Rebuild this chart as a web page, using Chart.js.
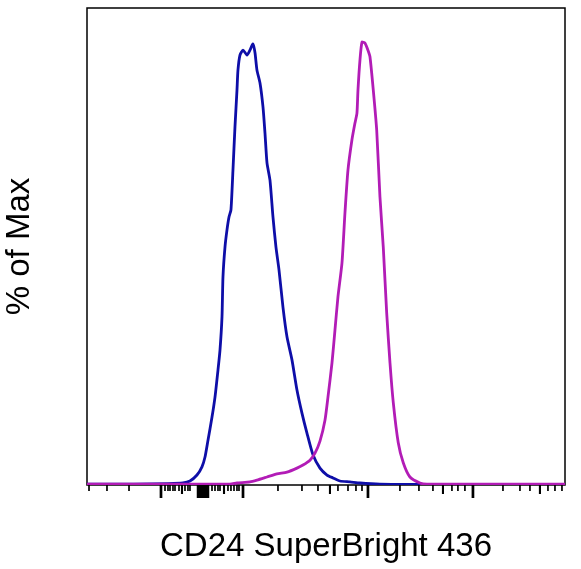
<!DOCTYPE html>
<html>
<head>
<meta charset="utf-8">
<script src="https://cdn.jsdelivr.net/npm/chart.js@4/dist/chart.umd.min.js"></script>
<style>
  html, body { margin: 0; padding: 0; background: #fff; }
</style>
</head>
<body>
<canvas id="histo" width="581" height="569"></canvas>
<script>
// x = display channel (0-1024 logicle), y = % of max
const isoChannel = [0, 100, 175, 205.6, 220.6, 235.6, 246.3, 252.8, 259.2, 267.8, 274.2, 280.6, 284.9, 289.2, 291.3,
  295.6, 299.9, 304.2, 308.4, 312.7, 317.0, 321.3, 323.4, 327.7, 334.2, 342.7, 349.1, 355.6, 359.9, 364.1,
  370.6, 377.0, 381.3, 385.6, 392.0, 398.4, 404.8, 411.3, 419.8, 428.4, 439.1, 449.8, 460.5, 471.2, 484.1,
  499.1, 514.1, 526.9, 541.9, 563.3, 584.8, 627.6, 700, 850, 1024];
const isoPct = [0.2, 0.2, 0.3, 0.45, 0.9, 2.25, 4.1, 6.3, 10.1, 15.3, 19.8, 25.9, 30.4, 37.9, 46.9,
  53.6, 57.5, 60.4, 62.0, 71.0, 80.7, 89.0, 93.5, 96.9, 98.0, 96.9, 98.0, 99.4, 97.4, 93.5,
  90.6, 85.2, 79.3, 72.6, 68.7, 60.4, 53.6, 48.5, 40.1, 33.4, 28.2, 21.4, 16.2, 11.7, 6.8,
  3.8, 2.25, 1.6, 0.9, 0.7, 0.45, 0.2, 0.15, 0.15, 0.15];

const cd24Channel = [0, 100, 200, 306.3, 321.3, 349.1, 364.1, 385.6, 406.9, 428.4, 449.8, 462.7, 477.7, 488.4,
  499.1, 509.8, 516.2, 524.8, 531.2, 537.6, 546.2, 552.6, 559.1, 567.6, 574.1, 578.3, 580.5, 584.8, 589.1,
  595.5, 601.9, 606.2, 613.3, 620.6, 627.6, 634.7, 642.0, 649.1, 656.2, 666.8, 677.5, 691.8, 713.3, 728.3,
  850, 1024];
const cd24Pct = [0.2, 0.2, 0.2, 0.2, 0.45, 0.7, 1.1, 1.8, 2.5, 2.9, 3.8, 4.5, 5.6, 7.2,
  9.9, 14.6, 19.8, 27.5, 34.9, 42.4, 50.0, 61.3, 71.0, 77.8, 81.6, 83.8, 89.0, 95.8, 99.8,
  99.6, 98.0, 96.5, 89.0, 80.0, 64.9, 53.6, 38.8, 27.5, 18.5, 9.5, 5.0, 1.8, 0.45, 0.2,
  0.2, 0.2];

// axis tick marks, in display channels
const majorTicks = [158.5, 238, 240, 242, 244, 246, 248.5, 250.5, 253, 255, 257, 259, 334.2, 601.9, 826.8];
const mediumTicks = [203.5, 293.5, 520.5, 762.6, 970.3];
const minorTicks = [4.3, 42.8, 90, 167.1, 173.5, 177.8, 184.2, 188.5, 197.1, 209.9, 216.3, 220.6,
  267.8, 274.2, 280.6, 284.9, 302, 308.4, 314.9, 321.3, 325.6, 409.1, 460.5, 494.8, 537.6, 559.1,
  576.2, 589.1, 670.4, 711.1, 741.1, 781.8, 794.6, 809.6, 891.1, 927.5, 948.9, 987.5, 1002.5, 1017.5];

const xTitle = 'CD24 SuperBright 436';
const yTitle = '% of Max';

const frameAndTicks = {
    id: 'frameAndTicks',
    beforeDatasetsDraw(chart) {
        const { ctx, chartArea: a } = chart;
        ctx.save();
        ctx.strokeStyle = '#000';
        ctx.lineWidth = 1.5;
        ctx.strokeRect(a.left, a.top, a.right - a.left, a.bottom - a.top);
        ctx.restore();
    },
    afterDatasetsDraw(chart) {
        const { ctx, chartArea: a, scales } = chart;
        const x = scales.x;
        const draw = (list, len, w) => {
            ctx.lineWidth = w;
            list.forEach(v => {
                const px = x.getPixelForValue(v);
                ctx.beginPath();
                ctx.moveTo(px, a.bottom);
                ctx.lineTo(px, a.bottom + len);
                ctx.stroke();
            });
        };
        ctx.save();
        ctx.strokeStyle = '#000';
        draw(minorTicks, 6, 1.7);
        draw(mediumTicks, 9, 2.1);
        draw(majorTicks, 13, 2.7);
        ctx.restore();
    }
};

const titleFont = { family: "'Liberation Sans', Arial, sans-serif", size: 33 };

new Chart(document.getElementById('histo'), {
    type: 'line',
    data: {
        datasets: [
            {
                label: 'CD24',
                data: cd24Channel.map((c, i) => ({ x: c, y: cd24Pct[i] })),
                borderColor: '#b21cb6',
                borderWidth: 2.8,
                pointRadius: 0,
                tension: 0.2,
                order: 0
            },
            {
                label: 'Isotype',
                data: isoChannel.map((c, i) => ({ x: c, y: isoPct[i] })),
                borderColor: '#0e0ea8',
                borderWidth: 2.8,
                pointRadius: 0,
                tension: 0.2,
                order: 1
            }
        ]
    },
    options: {
        responsive: false,
        animation: false,
        layout: { padding: { top: 8, right: 16, left: 0, bottom: 0 } },
        plugins: {
            legend: { display: false },
            tooltip: { enabled: false }
        },
        scales: {
            x: {
                type: 'linear',
                min: 0,
                max: 1024,
                grid: { display: false },
                border: { display: false },
                ticks: { display: false },
                title: { display: true, text: xTitle, color: '#000', font: titleFont, padding: { top: 0, bottom: 2 } },
                afterFit(scale) { scale.height = 84; }
            },
            y: {
                min: 0,
                max: 107.5,
                grid: { display: false },
                border: { display: false },
                ticks: { display: false },
                title: { display: true, text: yTitle, color: '#000', font: titleFont, padding: { top: 0, bottom: 0 } },
                afterFit(scale) { scale.width = 87; }
            }
        }
    },
    plugins: [frameAndTicks]
});
</script>
</body>
</html>
